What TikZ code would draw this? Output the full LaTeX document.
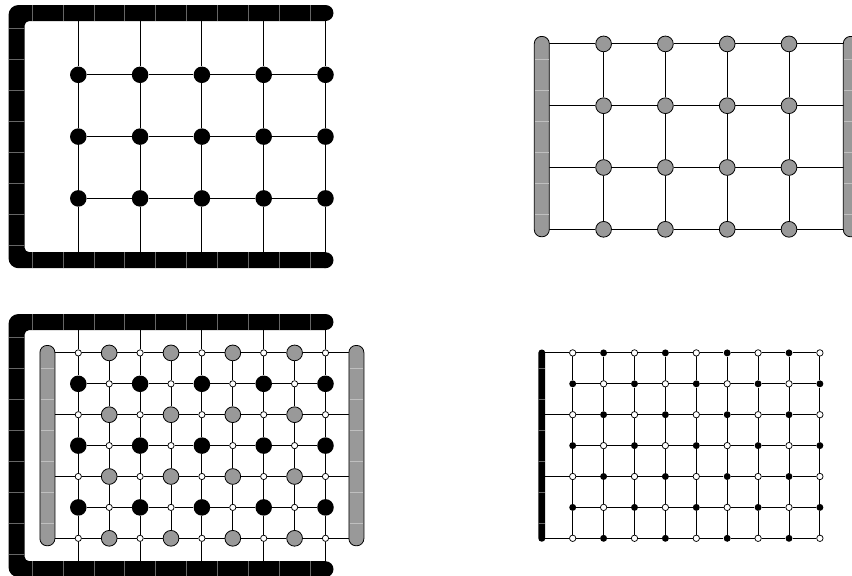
\documentclass[tikz,border=0pt]{standalone}
\usetikzlibrary{backgrounds}
\definecolor{midgray}{gray}{0.6}
\definecolor{seamdark}{gray}{0.4}
\definecolor{seamlight}{gray}{0.75}
\tikzset{
 wire/.style={line width=0.7pt, draw=black},
 bigblack/.style={circle, fill=black, inner sep=0pt, minimum size=12.4pt},
 biggray/.style={circle, draw=black, line width=0.6pt, fill=midgray, inner sep=0pt, minimum size=11.8pt},
 smallwhite/.style={circle, draw=black, line width=0.55pt, fill=white, inner sep=0pt, minimum size=4.7pt},
 dotwhite/.style={circle, draw=black, line width=0.55pt, fill=white, inner sep=0pt, minimum size=4.8pt},
 dotblack/.style={circle, fill=black, inner sep=0pt, minimum size=5.2pt},
 graybar/.style={draw=black, line width=0.6pt, fill=midgray, rounded corners=5.4pt},
 seamD/.style={draw=seamdark, line width=0.35pt},
 seamL/.style={draw=seamlight, line width=0.35pt},
}
\newcommand\myBlackFrame[1]{%
 \begin{scope}[shift={(0,#1)}]
  \begin{scope}
   \clip (-1,-1) rectangle (10,9);
   \fill[black, even odd rule] [rounded corners=7.5pt] (-\myHb,-\myHb) rectangle (11,8+\myHb) [rounded corners=3.6pt] (\myHb,\myHb) rectangle (11,8-\myHb);
  \end{scope}
  \fill[black] (10,0) circle[radius=\myHb];
  \fill[black] (10,8) circle[radius=\myHb];
  \foreach \s in {0,...,9} {
    \draw[seamD] (\s+0.5,-\myHb) -- (\s+0.5,\myHb);
    \draw[seamD] (\s+0.5,8-\myHb) -- (\s+0.5,8+\myHb);
  }
  \foreach \s in {0,...,7} \draw[seamD] (-\myHb,\s+0.5) -- (\myHb,\s+0.5);
 \end{scope}}
\newcommand\myGrayBar[3]{%
 \draw[graybar] (#1-\myHg,#2-\myHg) rectangle (#1+\myHg,#3+\myHg);
 \pgfmathtruncatemacro\myLast{#3-1}
 \foreach \s in {#2,...,\myLast} \draw[seamL] (#1-\myHg+0.025,\s+0.5) -- (#1+\myHg-0.025,\s+0.5);
}
\begin{document}
\begin{tikzpicture}[x=23.175pt,y=-23.175pt]
\pgfmathsetmacro\myHb{8/30.9}
\pgfmathsetmacro\myHg{7.5/30.9}
\pgfmathsetmacro\myHt{3.4/30.9}
\useasboundingbox (-0.534,-0.4207) rectangle (27.039,18.188);

% ---------- Panel A (top left) ----------
\foreach \i in {2,4,...,10}{
  \foreach \j in {2,4,6} \node[bigblack] (A-\i-\j) at (\i,\j) {};
  \coordinate (A-\i-0) at (\i,0);
  \coordinate (A-\i-8) at (\i,8);
}
\myBlackFrame{0}

% ---------- Panel B (top right) ----------
\foreach \i in {19,21,23,25}{
  \foreach \j in {1,3,5,7} \node[biggray] (B-\i-\j) at (\i,\j) {};
}
\foreach \j in {1,3,5,7}{
  \coordinate (B-17-\j) at (17,\j);
  \coordinate (B-27-\j) at (27,\j);
}
\myGrayBar{17}{1}{7}
\myGrayBar{27}{1}{7}

% ---------- Panel C (bottom left) ----------
\foreach \i in {2,...,10}{
  \foreach \j in {11,...,17}{
    \pgfmathtruncatemacro\myS{mod(\i+\j-13,2)}
    \pgfmathtruncatemacro\myA{mod(\i-2,2)}
    \ifnum\myS=0
      \node[smallwhite] (C-\i-\j) at (\i,\j) {};
    \else\ifnum\myA=1
      \node[biggray] (C-\i-\j) at (\i,\j) {};
    \else
      \node[bigblack] (C-\i-\j) at (\i,\j) {};
    \fi\fi
  }
}
\foreach \i in {2,4,...,10}{
  \coordinate (C-\i-10) at (\i,10);
  \coordinate (C-\i-18) at (\i,18);
}
\foreach \j in {11,13,15,17}{
  \coordinate (C-1-\j) at (1,\j);
  \coordinate (C-11-\j) at (11,\j);
}
\myBlackFrame{10}
\myGrayBar{1}{11}{17}
\myGrayBar{11}{11}{17}

% ---------- Panel D (bottom right) ----------
\foreach \i in {18,...,26}{
  \foreach \j in {11,...,17}{
    \pgfmathtruncatemacro\myS{mod(\i+\j-29,2)}
    \ifnum\myS=0
      \node[dotwhite] (D-\i-\j) at (\i,\j) {};
    \else
      \node[dotblack] (D-\i-\j) at (\i,\j) {};
    \fi
  }
}
\foreach \j in {11,13,15,17} \coordinate (D-17-\j) at (17,\j);
\fill[black, rounded corners=2.4pt] (17-\myHt,11-\myHt) rectangle (17+\myHt,17+\myHt);
\foreach \s in {11,...,16} \draw[seamD] (17-\myHt,\s+0.5) -- (17+\myHt,\s+0.5);

% ---------- connectors (behind) ----------
\begin{pgfonlayer}{background}
\fill[white] (-0.534,-0.4207) rectangle (27.039,18.188);
% A
\foreach \i in {2,4,...,10}{
  \foreach \j/\k in {0/2,2/4,4/6,6/8} \draw[wire] (A-\i-\j) -- (A-\i-\k);
}
\foreach \j in {2,4,6}{
  \foreach \i/\k in {2/4,4/6,6/8,8/10} \draw[wire] (A-\i-\j) -- (A-\k-\j);
}
% B
\foreach \i in {19,21,23,25}{
  \foreach \j/\k in {1/3,3/5,5/7} \draw[wire] (B-\i-\j) -- (B-\i-\k);
}
\foreach \j in {1,3,5,7}{
  \foreach \i/\k in {17/19,19/21,21/23,23/25,25/27} \draw[wire] (B-\i-\j) -- (B-\k-\j);
}
% C
\foreach \i in {2,4,...,10}{
  \foreach \j in {10,...,17}{
    \pgfmathtruncatemacro\myK{\j+1}
    \draw[wire] (C-\i-\j) -- (C-\i-\myK);
  }
}
\foreach \i in {3,5,7,9}{
  \foreach \j in {11,...,16}{
    \pgfmathtruncatemacro\myK{\j+1}
    \draw[wire] (C-\i-\j) -- (C-\i-\myK);
  }
}
\foreach \j in {11,13,15,17}{
  \foreach \i in {1,...,10}{
    \pgfmathtruncatemacro\myK{\i+1}
    \draw[wire] (C-\i-\j) -- (C-\myK-\j);
  }
}
\foreach \j in {12,14,16}{
  \foreach \i in {2,...,9}{
    \pgfmathtruncatemacro\myK{\i+1}
    \draw[wire] (C-\i-\j) -- (C-\myK-\j);
  }
}
% D
\foreach \i in {18,...,26}{
  \foreach \j in {11,...,16}{
    \pgfmathtruncatemacro\myK{\j+1}
    \draw[wire] (D-\i-\j) -- (D-\i-\myK);
  }
}
\foreach \j in {11,13,15,17}{
  \foreach \i in {17,...,25}{
    \pgfmathtruncatemacro\myK{\i+1}
    \draw[wire] (D-\i-\j) -- (D-\myK-\j);
  }
}
\foreach \j in {12,14,16}{
  \foreach \i in {18,...,25}{
    \pgfmathtruncatemacro\myK{\i+1}
    \draw[wire] (D-\i-\j) -- (D-\myK-\j);
  }
}
\end{pgfonlayer}
\end{tikzpicture}
\end{document}
